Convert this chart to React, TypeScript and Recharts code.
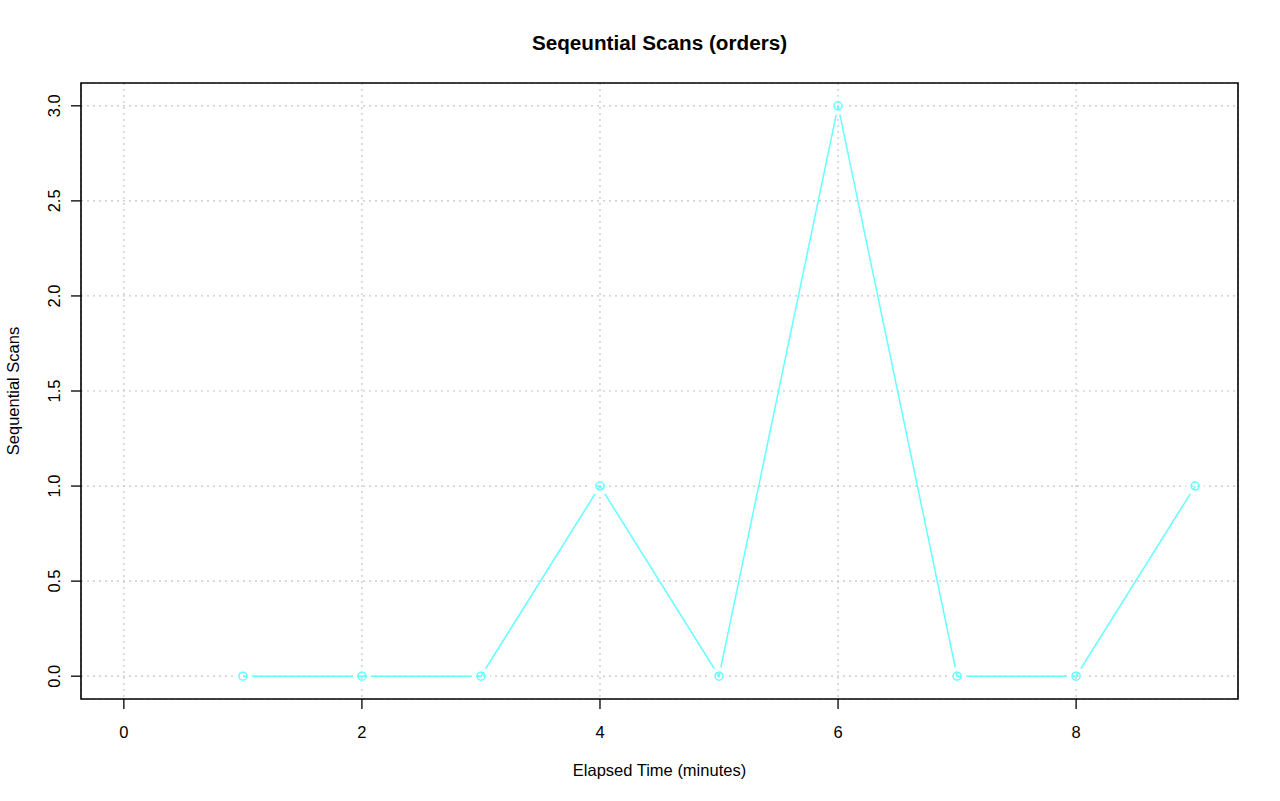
import {
  CartesianGrid,
  Label,
  Line,
  LineChart,
  ReferenceArea,
  XAxis,
  YAxis,
} from "recharts";

document.body.style.margin = "0";

const minutes = [1, 2, 3, 4, 5, 6, 7, 8, 9];
const seqScans = [0, 0, 0, 1, 0, 3, 0, 0, 1];
const xTicks = [0, 2, 4, 6, 8];
const yTicks = [0, 0.5, 1, 1.5, 2, 2.5, 3];

const FONT = "'Liberation Sans', Arial, Helvetica, sans-serif";
const CYAN = "#66ffff";

const data = minutes.map((m, i) => ({ minute: m, scans: seqScans[i] }));

function XTick(props: any) {
  const { x, y, payload } = props;
  return (
    <text
      x={x}
      y={y + 27}
      textAnchor="middle"
      fontSize={16.5}
      fontFamily={FONT}
      fill="#000"
    >
      {payload.value}
    </text>
  );
}

function YTick(props: any) {
  const { y, payload } = props;
  const bx = 60;
  return (
    <text
      x={bx}
      y={y}
      transform={`rotate(-90, ${bx}, ${y})`}
      textAnchor="middle"
      fontSize={16.5}
      fontFamily={FONT}
      fill="#000"
    >
      {Number(payload.value).toFixed(1)}
    </text>
  );
}

// type="b" style: open circle with a small gap around it
function Dot(props: any) {
  const { cx, cy } = props;
  if (cx == null || cy == null) return null;
  return (
    <g>
      <circle cx={cx} cy={cy} r={7} fill="none" stroke="#fff" strokeWidth={4.4} />
      <circle cx={cx} cy={cy} r={4} fill="none" stroke={CYAN} strokeWidth={1.5} />
    </g>
  );
}

export default function App() {
  return (
    <div style={{ position: "relative", width: 1280, height: 801, background: "#fff" }}>
      {/* title is centred over the plot box, not the page */}
      <div
        style={{
          position: "absolute",
          top: 29,
          left: 81,
          width: 1157,
          textAlign: "center",
          fontFamily: FONT,
          fontWeight: "bold",
          fontSize: 20.7,
          lineHeight: "28px",
          color: "#000",
        }}
      >
        Seqeuntial Scans (orders)
      </div>
      <LineChart
        width={1280}
        height={801}
        data={data}
        margin={{ top: 83, right: 42, bottom: 22, left: 0 }}
      >
        <CartesianGrid
          stroke="#c4c4c4"
          strokeDasharray="2 4"
          strokeWidth={1.2}
        />
        <XAxis
          dataKey="minute"
          type="number"
          domain={[-0.36, 9.36]}
          ticks={xTicks}
          allowDataOverflow
          height={80}
          axisLine={false}
          tickSize={10}
          tickLine={{ stroke: "#000", strokeWidth: 1.3 }}
          tick={<XTick />}
        >
          <Label
            content={(p: any) => {
              const vb = p.viewBox;
              return (
                <text
                  x={vb.x + vb.width / 2}
                  y={776}
                  textAnchor="middle"
                  fontSize={16.5}
                  fontFamily={FONT}
                  fill="#000"
                >
                  Elapsed Time (minutes)
                </text>
              );
            }}
          />
        </XAxis>
        <YAxis
          type="number"
          domain={[-0.12, 3.12]}
          ticks={yTicks}
          allowDataOverflow
          width={81}
          axisLine={false}
          tickSize={10}
          tickLine={{ stroke: "#000", strokeWidth: 1.3 }}
          tick={<YTick />}
        >
          <Label
            content={(p: any) => {
              const vb = p.viewBox;
              const cy = vb.y + vb.height / 2;
              return (
                <text
                  x={19}
                  y={cy}
                  transform={`rotate(-90, 19, ${cy})`}
                  textAnchor="middle"
                  fontSize={16.5}
                  fontFamily={FONT}
                  fill="#000"
                >
                  Sequential Scans
                </text>
              );
            }}
          />
        </YAxis>
        <Line
          dataKey="scans"
          type="linear"
          stroke={CYAN}
          strokeWidth={1.5}
          dot={<Dot />}
          activeDot={false}
          isAnimationActive={false}
        />
        <ReferenceArea
          x1={-0.36}
          x2={9.36}
          y1={-0.12}
          y2={3.12}
          fill="none"
          fillOpacity={0}
          stroke="#000"
          strokeWidth={1.6}
          ifOverflow="visible"
        />
      </LineChart>
    </div>
  );
}
